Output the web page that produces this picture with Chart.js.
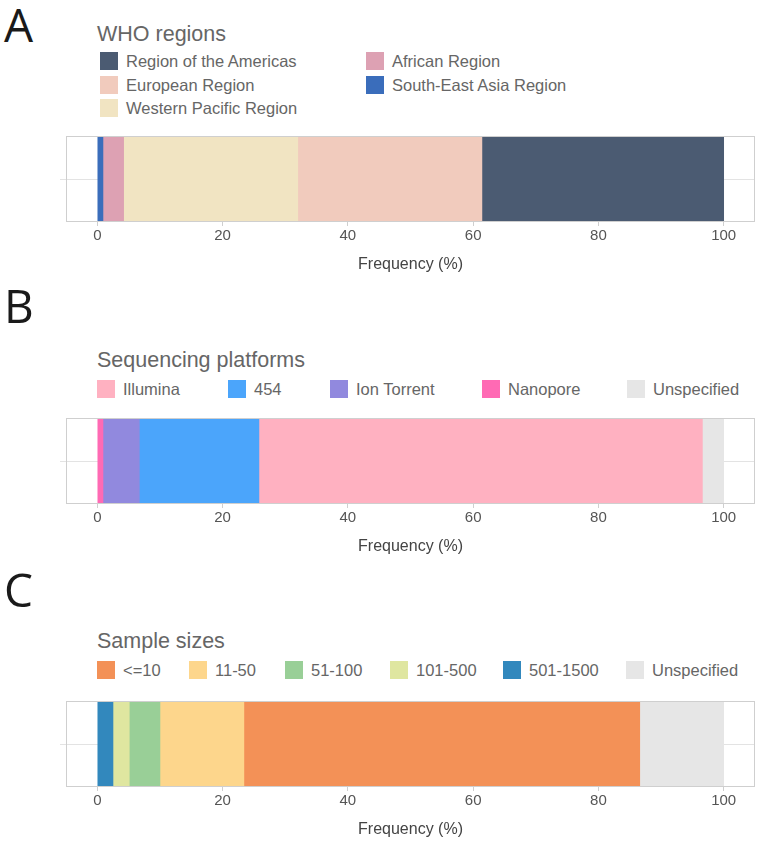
<!DOCTYPE html>
<html>
<head>
<meta charset="utf-8">
<script src="https://cdn.jsdelivr.net/npm/chart.js@4.4.0/dist/chart.umd.min.js"></script>
<style>
body { margin:0; width:762px; height:841px; position:relative; background:#fff; overflow:hidden;
       font-family:"Liberation Sans", Arial, sans-serif; }
.letter { position:absolute; left:4px; font-family:"Open Sans", sans-serif; font-size:46px; color:#1a1a1a; line-height:46px; }
.title { position:absolute; left:97px; font-size:21.5px; color:#666; line-height:24px; white-space:nowrap; }
.item { position:absolute; height:18px; display:flex; align-items:center; font-size:16.5px; color:#666; white-space:nowrap; }
.sw { width:18px; height:18px; margin-right:8px; flex:none; }
canvas { position:absolute; left:0; }
</style>
</head>
<body>
<div class="letter" style="top:1px">A</div>
<div class="title" style="top:22px">WHO regions</div>
<div id="legA"></div>
<canvas id="chartA" width="762" height="155" style="top:125px"></canvas>

<div class="letter" style="top:282px">B</div>
<div class="title" style="top:348px">Sequencing platforms</div>
<div id="legB"></div>
<canvas id="chartB" width="762" height="155" style="top:407px"></canvas>

<div class="letter" style="top:566px">C</div>
<div class="title" style="top:629px">Sample sizes</div>
<div id="legC"></div>
<canvas id="chartC" width="762" height="155" style="top:690px"></canvas>

<script>
// data, in legend order
const whoLabels = ['Region of the Americas', 'European Region', 'Western Pacific Region', 'African Region', 'South-East Asia Region'];
const whoValues = [38.6, 29.4, 27.8, 3.3, 0.9];
const whoColors = ['#4b5b72', '#f1cbbd', '#f1e4c2', '#dda1b3', '#3a6dbb'];
const whoStack = [4, 3, 2, 1, 0];

const platLabels = ['Illumina', '454', 'Ion Torrent', 'Nanopore', 'Unspecified'];
const platValues = [70.8, 19.1, 5.8, 0.9, 3.4];
const platColors = ['#ffb1c1', '#4ba5fb', '#9189de', '#ff6ab4', '#e6e6e6'];
const platStack = [3, 2, 1, 0, 4];

const sizeLabels = ['<=10', '11-50', '51-100', '101-500', '501-1500', 'Unspecified'];
const sizeValues = [63.2, 13.4, 4.9, 2.6, 2.5, 13.4];
const sizeColors = ['#f39157', '#fdd68c', '#99cf97', '#dfe6a0', '#3288bd', '#e6e6e6'];
const sizeStack = [4, 3, 2, 1, 0, 5];

const xTicks = [0, 20, 40, 60, 80, 100];

// legend placement
const legAPos = [[100, 52], [100, 76], [100, 99], [366, 52], [366, 76]];
const legBPos = [97, 228, 330, 482, 627];
const legCPos = [97, 189, 285, 390, 503, 626];

function legend(id, labels, colors, pos) {
    const el = document.getElementById(id);
    labels.forEach((l, i) => {
        const d = document.createElement('div');
        d.className = 'item';
        d.style.left = pos[i][0] + 'px';
        d.style.top = pos[i][1] + 'px';
        const sw = document.createElement('span');
        sw.className = 'sw';
        sw.style.background = colors[i];
        d.appendChild(sw);
        d.appendChild(document.createTextNode(l));
        el.appendChild(d);
    });
}
legend('legA', whoLabels, whoColors, legAPos);
legend('legB', platLabels, platColors, legBPos.map(x => [x, 380]));
legend('legC', sizeLabels, sizeColors, legCPos.map(x => [x, 661]));

Chart.defaults.font.family = '"Liberation Sans", Arial, sans-serif';

// box around the plot area
const frame = {
    id: 'frame',
    afterDraw(chart) {
        const a = chart.chartArea;
        const ctx = chart.ctx;
        ctx.save();
        ctx.strokeStyle = '#cfcfcf';
        ctx.lineWidth = 1;
        ctx.strokeRect(a.left + 0.5, a.top + 0.5, a.right - a.left - 1, a.bottom - a.top - 1);
        ctx.restore();
    }
};

function makeChart(id, labels, values, colors, stack) {
    new Chart(document.getElementById(id), {
        type: 'bar',
        data: {
            labels: [''],
            datasets: stack.map(i => ({
                label: labels[i],
                data: [values[i]],
                backgroundColor: colors[i],
                borderWidth: 0,
                categoryPercentage: 1,
                barPercentage: 1
            }))
        },
        options: {
            indexAxis: 'y',
            responsive: false,
            animation: false,
            layout: { padding: { left: 60, right: 7, top: 11, bottom: 0 } },
            plugins: { legend: { display: false }, tooltip: { enabled: false } },
            scales: {
                x: {
                    stacked: true,
                    min: -5,
                    max: 105,
                    afterBuildTicks: s => { s.ticks = xTicks.map(v => ({ value: v })); },
                    afterFit: s => { s.height = 58; },
                    grid: { drawOnChartArea: false, tickLength: 4, color: '#cfcfcf' },
                    border: { display: false },
                    ticks: { color: '#555', font: { size: 15 }, padding: 1, maxRotation: 0 },
                    title: { display: true, text: 'Frequency (%)', color: '#444', font: { size: 16 }, padding: { top: 4, bottom: 6 } }
                },
                y: {
                    stacked: true,
                    afterFit: s => { s.width = 6; },
                    grid: { offset: false, color: '#e3e3e3', tickLength: 6 },
                    border: { display: false },
                    ticks: { display: false }
                }
            }
        },
        plugins: [frame]
    });
}

makeChart('chartA', whoLabels, whoValues, whoColors, whoStack);
makeChart('chartB', platLabels, platValues, platColors, platStack);
makeChart('chartC', sizeLabels, sizeValues, sizeColors, sizeStack);
</script>
</body>
</html>
